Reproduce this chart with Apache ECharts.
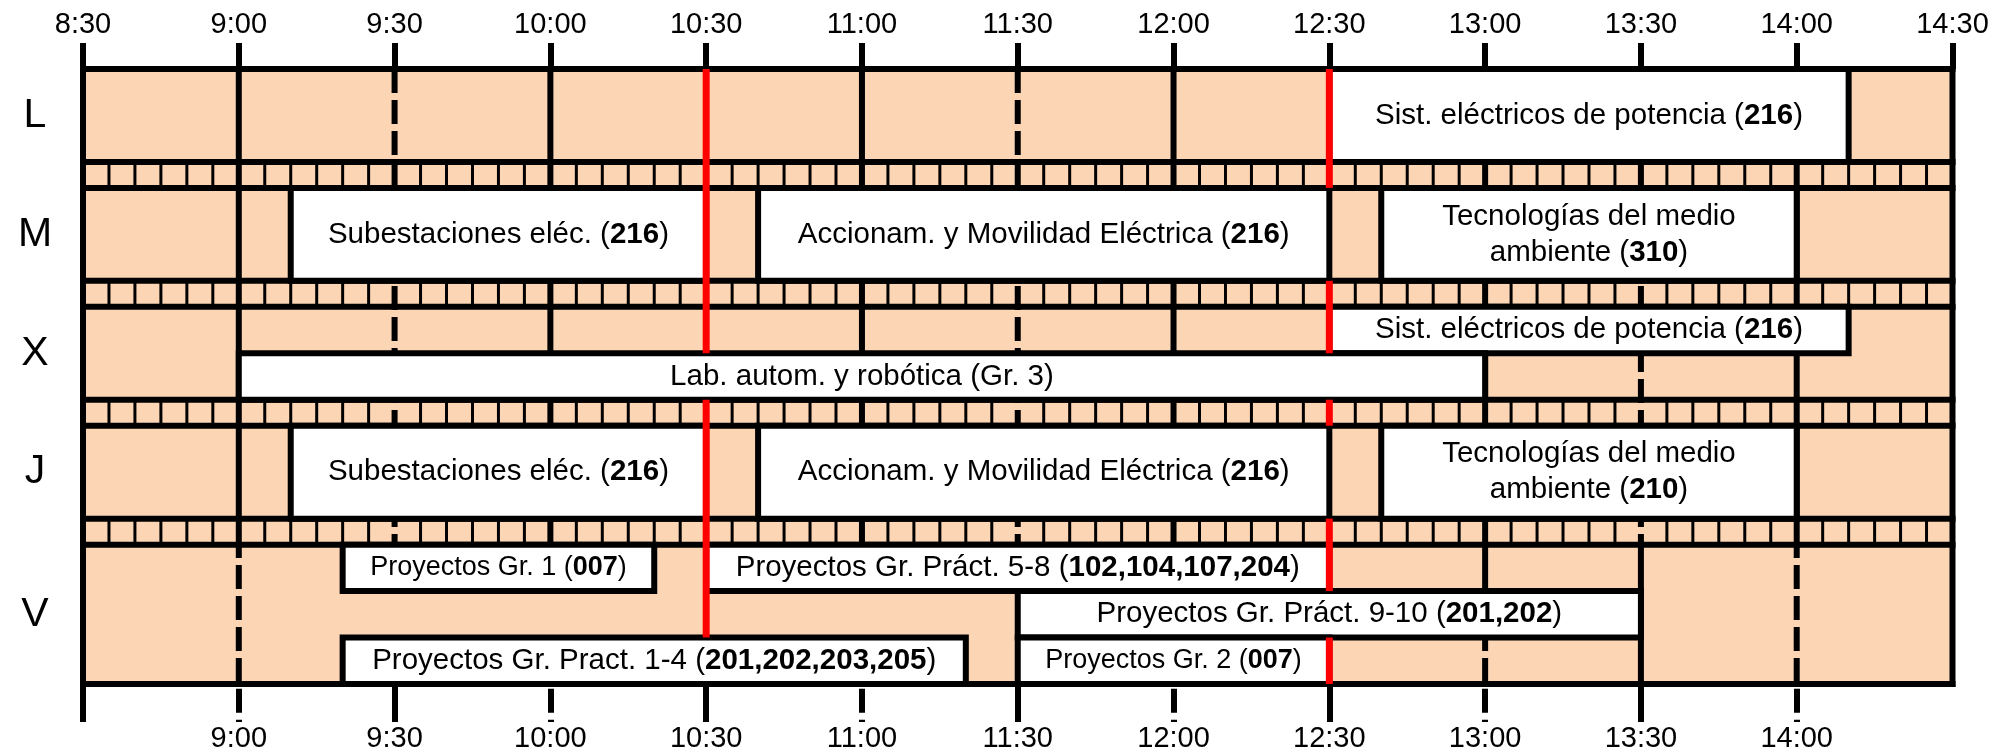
<!DOCTYPE html>
<html><head><meta charset="utf-8">
<script src="https://cdn.jsdelivr.net/npm/echarts@6/dist/echarts.min.js"></script>
<style>html,body{margin:0;padding:0;background:#fff}#chart{width:1996px;height:753px}</style>
</head><body><div id="chart"></div>
<script>
// ---------- data ----------
const days = ['L', 'M', 'X', 'J', 'V'];
const daySlots = [2, 2, 2, 2, 3];            // sub-rows per day
const timeLabels = ['8:30','9:00','9:30','10:00','10:30','11:00','11:30','12:00','12:30','13:00','13:30','14:00','14:30'];
const bottomLabels = ['9:00','9:30','10:00','10:30','11:00','11:30','12:00','12:30','13:00','13:30','14:00'];
const bottomSolidTicks = ['8:30','9:30','10:30','11:30','12:30','13:30'];
const bottomDashedTicks = ['9:00','10:00','11:00','12:00','13:00','14:00'];
// [day, slotFrom, slotTo, start, end, subject, room]
const sessions = [
  ['L', 0, 2, '12:30', '14:10', 'Sist. eléctricos de potencia', '216'],
  ['M', 0, 2, '9:10', '10:30', 'Subestaciones eléc.', '216'],
  ['M', 0, 2, '10:40', '12:30', 'Accionam. y Movilidad Eléctrica', '216'],
  ['M', 0, 2, '12:40', '14:00', 'Tecnologías del medio\nambiente', '310'],
  ['X', 0, 1, '12:30', '14:10', 'Sist. eléctricos de potencia', '216'],
  ['X', 1, 2, '9:00', '13:00', 'Lab. autom. y robótica (Gr. 3)', ''],
  ['J', 0, 2, '9:10', '10:30', 'Subestaciones eléc.', '216'],
  ['J', 0, 2, '10:40', '12:30', 'Accionam. y Movilidad Eléctrica', '216'],
  ['J', 0, 2, '12:40', '14:00', 'Tecnologías del medio\nambiente', '210'],
  ['V', 0, 1, '9:20', '10:20', 'Proyectos Gr. 1', '007'],
  ['V', 0, 1, '10:30', '12:30', 'Proyectos Gr. Práct. 5-8', '102,104,107,204'],
  ['V', 1, 2, '11:30', '13:30', 'Proyectos Gr. Práct. 9-10', '201,202'],
  ['V', 2, 3, '9:20', '11:20', 'Proyectos Gr. Pract. 1-4', '201,202,203,205'],
  ['V', 2, 3, '11:30', '12:30', 'Proyectos Gr. 2', '007']
];
const hourLines = ['9:00','10:00','11:00','12:00','13:00','14:00'];   // solid, L..J
const halfHourDashed = ['9:30','11:30','13:30'];                       // dashed, L..J
// Friday grid: [time, slotFrom, slotTo, dashed]
const fridayLines = [['9:00',0,3,1],['14:00',0,3,1],['13:00',0,1,0],['13:00',2,3,1],['13:30',0,3,0]];
// red break lines: [time, dayFrom, slotFrom, dayTo, slotTo]
const breakLines = [
  ['10:30','L',0,'X',1], ['10:30','X',2,'V',2],
  ['12:30','L',0,'M',0], ['12:30','M',2,'X',1], ['12:30','X',2,'J',0], ['12:30','J',2,'V',1], ['12:30','V',2,'V',3]
];

// ---------- layout ----------
const FF = '"Liberation Sans", Arial, Helvetica, sans-serif';
const STRIP = 0.56;
const GRID = {left: 83, right: 43.5, top: 69, bottom: 68.7};
const GRID_H = 753 - GRID.top - GRID.bottom;
const DASH = [24, 7], PERIOD = 31;
const toMin = t => { const [h, m] = t.split(':').map(Number); return h * 60 + m - 510; };
const XMAX = toMin(timeLabels[timeLabels.length - 1]);
function yAt(day, slot) {
  const i = days.indexOf(day); let s = 0;
  for (let j = 0; j < i; j++) s += daySlots[j] + STRIP;
  return s + slot;
}
const YMAX = yAt('V', daySlots[4]);
const dayCenters = days.map((d, i) => yAt(d, daySlots[i] / 2));

// vertical segments: [x, y0, y1, kind] kind 0 solid,1 dashed
const vSegs = [];
hourLines.forEach(t => vSegs.push([toMin(t), 0, yAt('V', 0), 0]));
halfHourDashed.forEach(t => vSegs.push([toMin(t), 0, yAt('V', 0), 1]));
fridayLines.forEach(f => vSegs.push([toMin(f[0]), yAt('V', f[1]), yAt('V', f[2]), f[3]]));
vSegs.push([0, 0, YMAX, 0]); vSegs.push([XMAX, 0, YMAX, 0]);
// horizontal borders [x0, x1, y]
const hSegs = [];
days.forEach((d, i) => { hSegs.push([0, XMAX, yAt(d, 0)]); hSegs.push([0, XMAX, yAt(d, daySlots[i])]); });
// strip cell lines
const cellSegs = [];
for (let i = 0; i < days.length - 1; i++) {
  const y0 = yAt(days[i], daySlots[i]), y1 = yAt(days[i + 1], 0);
  for (let m = 5; m < XMAX; m += 5) if (m % 30 !== 0) cellSegs.push([m, y0, y1]);
}
const redSegs = breakLines.map(b => [toMin(b[0]), yAt(b[1], b[2]), yAt(b[3], b[4])]);

function lineItem(api, x0, y0, x1, y1, style) {
  const a = api.coord([x0, y0]), b = api.coord([x1, y1]);
  return {type: 'line', shape: {x1: a[0], y1: a[1], x2: b[0], y2: b[1]}, style: style};
}
const tl = v => { const m = Math.round(v) + 510; return Math.floor(m / 60) + ':' + String(m % 60).padStart(2, '0'); };

const chart = echarts.init(document.getElementById('chart'), null, {renderer: 'canvas'});
const option = {
  animation: false,
  backgroundColor: '#fff',
  grid: {left: GRID.left, right: GRID.right, top: GRID.top, bottom: GRID.bottom, containLabel: false},
  xAxis: [
    {type: 'value', position: 'top', min: 0, max: XMAX, interval: 30,
     axisLine: {show: false}, splitLine: {show: false},
     axisTick: {show: true, length: 26, lineStyle: {color: '#000', width: 6}},
     axisLabel: {formatter: v => tl(v), fontSize: 29, color: '#000', margin: 30, fontFamily: FF, showMaxLabel: true, showMinLabel: true}},
    {type: 'value', position: 'bottom', min: 0, max: XMAX, interval: 30,
     axisLine: {show: false}, splitLine: {show: false},
     axisTick: {show: true, length: 38, customValues: bottomSolidTicks.map(toMin), lineStyle: {color: '#000', width: 6}},
     axisLabel: {customValues: bottomLabels.map(toMin), formatter: v => tl(v), fontSize: 29, color: '#000', margin: 40, fontFamily: FF}},
    {type: 'value', position: 'bottom', min: 0, max: XMAX, interval: 30,
     axisLine: {show: false}, splitLine: {show: false},
     axisTick: {show: true, length: 38, customValues: bottomDashedTicks.map(toMin),
       lineStyle: {color: '#000', width: 6, type: DASH, dashOffset: GRID_H % PERIOD}},
     axisLabel: {show: false}}
  ],
  yAxis: {type: 'value', inverse: true, min: 0, max: YMAX,
    axisLine: {show: false}, axisTick: {show: false}, splitLine: {show: false},
    axisLabel: {customValues: dayCenters, fontSize: 41, color: '#000', fontFamily: FF, align: 'center', margin: 48,
      formatter: v => { let best = 0; dayCenters.forEach((c, i) => { if (Math.abs(c - v) < Math.abs(dayCenters[best] - v)) best = i; }); return days[best]; }}},
  series: [
    { // background
      type: 'custom', z: 1, silent: true, xAxisIndex: 0,
      data: [[0, 0, XMAX, YMAX]],
      renderItem: (p, api) => {
        const a = api.coord([api.value(0), api.value(1)]), b = api.coord([api.value(2), api.value(3)]);
        return {type: 'rect', shape: {x: a[0], y: a[1], width: b[0] - a[0], height: b[1] - a[1]}, style: {fill: '#FCD5B4'}};
      }
    },
    { // strip cells
      type: 'custom', z: 2, silent: true, xAxisIndex: 0,
      data: cellSegs,
      renderItem: (p, api) => lineItem(api, api.value(0), api.value(1), api.value(0), api.value(2), {stroke: '#000', lineWidth: 3})
    },
    { // vertical grid
      type: 'custom', z: 3, silent: true, xAxisIndex: 0,
      data: vSegs,
      renderItem: (p, api) => {
        const x = api.value(0), y0 = api.value(1), y1 = api.value(2), dashed = api.value(3) === 1;
        const top = api.coord([0, 0])[1];
        const py = api.coord([x, y0])[1];
        const st = {stroke: '#000', lineWidth: 6, lineCap: 'square'};
        if (dashed) { st.lineDash = DASH; st.lineDashOffset = (((py - top) % PERIOD) + PERIOD) % PERIOD; st.lineCap = 'butt'; }
        return lineItem(api, x, y0, x, y1, st);
      }
    },
    { // horizontal borders
      type: 'custom', z: 4, silent: true, xAxisIndex: 0,
      data: hSegs,
      renderItem: (p, api) => lineItem(api, api.value(0), api.value(2), api.value(1), api.value(2), {stroke: '#000', lineWidth: 6, lineCap: 'square'})
    },
    { // sessions
      type: 'custom', z: 5, silent: true, xAxisIndex: 0,
      data: sessions.map((s, i) => [toMin(s[3]), yAt(s[0], s[1]), toMin(s[4]), yAt(s[0], s[2]), i]),
      renderItem: (p, api) => {
        const a = api.coord([api.value(0), api.value(1)]), b = api.coord([api.value(2), api.value(3)]);
        const s = sessions[api.value(4)];
        const fs = (api.value(2) - api.value(0)) <= 60 ? 27 : 29.5;
        const txt = s[6] ? s[5] + ' ({b|' + s[6] + '})' : s[5];
        return {type: 'group', children: [
          {type: 'rect', shape: {x: a[0], y: a[1], width: b[0] - a[0], height: b[1] - a[1]},
           style: {fill: '#fff', stroke: '#000', lineWidth: 6}},
          {type: 'text', x: (a[0] + b[0]) / 2, y: (a[1] + b[1]) / 2,
           style: {text: txt, fontSize: fs, fontFamily: FF, fill: '#000', align: 'center', verticalAlign: 'middle', lineHeight: 36,
             rich: {b: {fontSize: fs, fontFamily: FF, fontWeight: 'bold', fill: '#000', lineHeight: 36}}}}
        ]};
      }
    },
    { // red breaks
      type: 'custom', z: 6, silent: true, xAxisIndex: 0,
      data: redSegs,
      renderItem: (p, api) => lineItem(api, api.value(0), api.value(1), api.value(0), api.value(2), {stroke: '#FF0000', lineWidth: 7})
    }
  ]
};
chart.setOption(option);
</script></body></html>
